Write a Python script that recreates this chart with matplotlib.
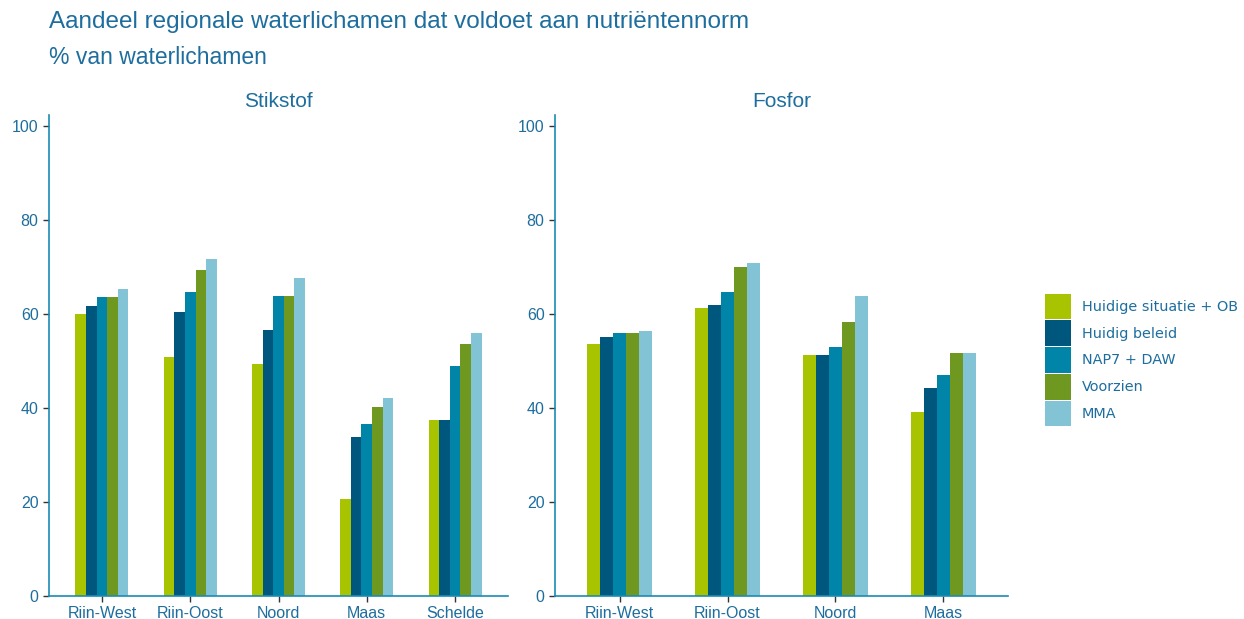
import matplotlib
matplotlib.use('Agg')
from matplotlib import pyplot as plt
from matplotlib.patches import Patch
import numpy as np

plt.rcParams['font.family'] = ['Liberation Sans', 'DejaVu Sans']

scenarios = ['Huidige situatie + OB', 'Huidig beleid', 'NAP7 + DAW', 'Voorzien', 'MMA']
colors = ['#a8c300', '#00577d', '#0085a8', '#6f9820', '#82c3d5']

regions_n = ['Riin-West', 'Riin-Oost', 'Noord', 'Maas', 'Schelde']
stikstof = [
    [59.9, 50.9, 49.3, 20.6, 37.5],
    [61.6, 60.4, 56.6, 33.8, 37.5],
    [63.5, 64.6, 63.9, 36.5, 48.9],
    [63.5, 69.3, 63.9, 40.2, 53.5],
    [65.2, 71.6, 67.6, 42.2, 55.9],
]

regions_p = ['Riin-West', 'Riin-Oost', 'Noord', 'Maas']
fosfor = [
    [53.5, 61.3, 51.2, 39.2],
    [55.0, 61.9, 51.2, 44.2],
    [55.9, 64.6, 52.9, 46.9],
    [55.9, 69.9, 58.2, 51.6],
    [56.3, 70.9, 63.9, 51.6],
]

txt = '#1d6e9e'
spine = '#1a8cb4'

fig = plt.figure(figsize=(12.44, 6.19), dpi=100)
ax1 = fig.add_axes([49/1244, 1-596/619, 459/1244, 481/619])
ax2 = fig.add_axes([555/1244, 1-596/619, 453/1244, 481/619])

bw = 0.12
for ax, cats, data, title in ((ax1, regions_n, stikstof, 'Stikstof'), (ax2, regions_p, fosfor, 'Fosfor')):
    x = np.arange(len(cats))
    for i, vals in enumerate(data):
        ax.bar(x + (i - 2) * bw, vals, width=bw, color=colors[i], linewidth=0)
    ax.set_xlim(-0.6, len(cats) - 0.4)
    ax.set_ylim(0, 102.3)
    ax.set_xticks(x)
    ax.set_xticklabels(cats)
    ax.set_yticks([0, 20, 40, 60, 80, 100])
    ax.tick_params(colors='#333333', labelcolor=txt, labelsize=11.5, length=4, width=1)
    for s in ('top', 'right'):
        ax.spines[s].set_visible(False)
    for s in ('left', 'bottom'):
        ax.spines[s].set_color(spine)
        ax.spines[s].set_linewidth(1.2)
    ax.set_title(title, color=txt, fontsize=15, pad=6)

fig.text(49/1244, 1-22/619, 'Aandeel regionale waterlichamen dat voldoet aan nutriëntennorm',
         color=txt, fontsize=17.5, va='center', ha='left')
fig.text(49/1244, 1-57/619, '% van waterlichamen', color=txt, fontsize=16.5, va='center', ha='left')

handles = [Patch(facecolor=c, edgecolor='none') for c in colors]
fig.legend(handles, scenarios, loc='center left', bbox_to_anchor=(1032/1244, 1-360/619),
           frameon=False, labelcolor=txt, handlelength=1.77, handleheight=2.35,
           handletextpad=0.8, labelspacing=0.08, prop={'family': ['DejaVu Sans'], 'size': 10.4})

fig.savefig('out.png', dpi=100)
